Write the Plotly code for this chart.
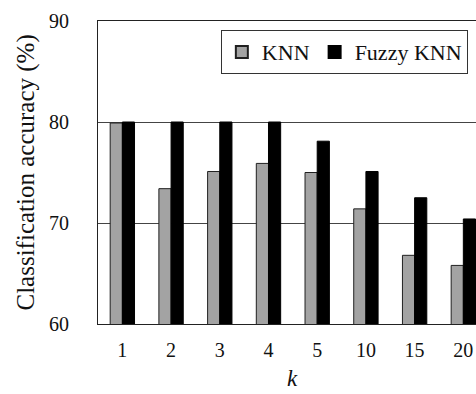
import plotly.graph_objects as go

categories = ["1", "2", "3", "4", "5", "10", "15", "20"]
knn = [79.9, 73.4, 75.1, 75.9, 75.0, 71.4, 66.8, 65.8]
fuzzy_knn = [80.0, 80.0, 80.0, 80.0, 78.1, 75.1, 72.5, 70.4]

FONT = "Liberation Serif"

fig = go.Figure()
fig.add_trace(go.Bar(x=categories, y=knn, name="KNN",
                     marker=dict(color="#a3a3a3", line=dict(color="#202020", width=1))))
fig.add_trace(go.Bar(x=categories, y=fuzzy_knn, name="Fuzzy KNN",
                     marker=dict(color="#000000", line=dict(color="#000000", width=1))))

fig.update_layout(
    width=476, height=394,
    margin=dict(l=98, r=0, t=21, b=70, autoexpand=False),
    paper_bgcolor="white", plot_bgcolor="white",
    barmode="group", bargap=0.5, bargroupgap=0,
    font=dict(family=FONT, size=20, color="#111111"),
    showlegend=True,
    legend=dict(orientation="h", x=0.325, y=0.97, xanchor="left", yanchor="top",
                bordercolor="#333333", borderwidth=1, bgcolor="white",
                font=dict(family=FONT, size=22, color="#111111"),
                itemsizing="constant", tracegroupgap=0),
)
fig.update_xaxes(
    type="category", range=[-0.5, 7.26], automargin=False,
    showline=True, linecolor="#222222", linewidth=1, mirror=True,
    showgrid=False, ticks="", ticklabelstandoff=8,
    tickfont=dict(family=FONT, size=20),
)
fig.update_yaxes(
    range=[60, 90], dtick=10, automargin=False,
    showline=True, linecolor="#222222", linewidth=1,
    showgrid=True, gridcolor="#444444", gridwidth=1,
    ticks="", ticklabelstandoff=24,
    tickfont=dict(family=FONT, size=20),
    zeroline=False,
)
fig.add_annotation(text="Classification accuracy (%)", xref="paper", yref="paper",
                   x=(25 - 98) / 378, y=0.5, xanchor="center", yanchor="middle",
                   textangle=-90, showarrow=False,
                   font=dict(family=FONT, size=25, color="#111111"))
fig.add_annotation(text="<i>k</i>", xref="paper", yref="paper",
                   x=(292 - 98) / 378, y=-(378 - 324) / 303, xanchor="center", yanchor="middle",
                   showarrow=False, font=dict(family=FONT, size=23, color="#111111"))

fig.write_html(
    "out.html",
    config={"displayModeBar": False},
    post_script="document.body.style.margin='0';document.body.style.overflow='hidden';",
)
